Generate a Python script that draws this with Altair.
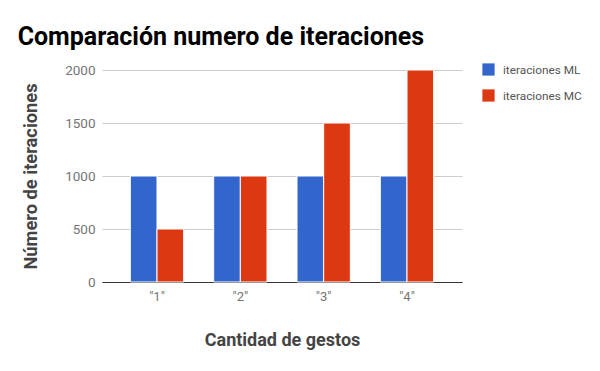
import altair as alt
import pandas as pd

categories = ['"1"', '"2"', '"3"', '"4"']
series_names = ["iteraciones ML", "iteraciones MC"]
ml_values = [1000, 1000, 1000, 1000]
mc_values = [500, 1000, 1500, 2000]
y_ticks = [0, 500, 1000, 1500, 2000]

rows = []
for c, v in zip(categories, ml_values):
    rows.append({"cat": c, "serie": series_names[0], "val": v})
for c, v in zip(categories, mc_values):
    rows.append({"cat": c, "serie": series_names[1], "val": v})
df = pd.DataFrame(rows)

FONT = "Roboto"

chart = alt.Chart(df).mark_bar(stroke="white", strokeWidth=1).encode(
    x=alt.X("cat:N", sort=categories,
            scale=alt.Scale(paddingInner=0.36, paddingOuter=0.34),
            axis=alt.Axis(title="Cantidad de gestos", labelAngle=0,
                          labelColor="#757575", labelFontSize=13, labelFont=FONT,
                          labelPadding=8, ticks=False, domainColor="#333333",
                          titleFont=FONT, titleFontSize=18, titleFontWeight="bold",
                          titleColor="#444444", titlePadding=28)),
    xOffset=alt.XOffset("serie:N", sort=series_names,
                        scale=alt.Scale(paddingInner=0.0, paddingOuter=0)),
    y=alt.Y("val:Q", scale=alt.Scale(domain=[0, 2000], nice=False),
            axis=alt.Axis(title="Número de iteraciones", values=y_ticks, format="d",
                          labelColor="#757575", labelFontSize=13.5, labelFont=FONT,
                          labelPadding=7, ticks=False, domain=False,
                          gridColor="#cccccc", gridWidth=1,
                          titleFont=FONT, titleFontSize=18.3, titleFontWeight="bold",
                          titleColor="#444444", titlePadding=24)),
    color=alt.Color("serie:N", sort=series_names,
                    scale=alt.Scale(domain=series_names, range=["#3366cc", "#dc3912"]),
                    legend=alt.Legend(title=None, orient="none", legendX=380, legendY=-7,
                                      symbolType="square", symbolSize=150,
                                      symbolStrokeWidth=0, symbolOpacity=1,
                                      labelFont=FONT, labelFontSize=11.8,
                                      labelColor="#555555", rowPadding=12,
                                      labelOffset=8)),
).properties(
    width=360, height=212,
    title=alt.TitleParams("Comparación numero de iteraciones", anchor="start",
                          font=FONT, fontSize=25, fontWeight="bold", color="#000000",
                          dx=-4, offset=13),
    autosize=alt.AutoSizeParams(type="none"),
    padding={"left": 94, "top": 62, "right": 130, "bottom": 81},
).configure_view(stroke=None)

chart.save("out.html", embed_options={"renderer": "svg", "actions": False})
